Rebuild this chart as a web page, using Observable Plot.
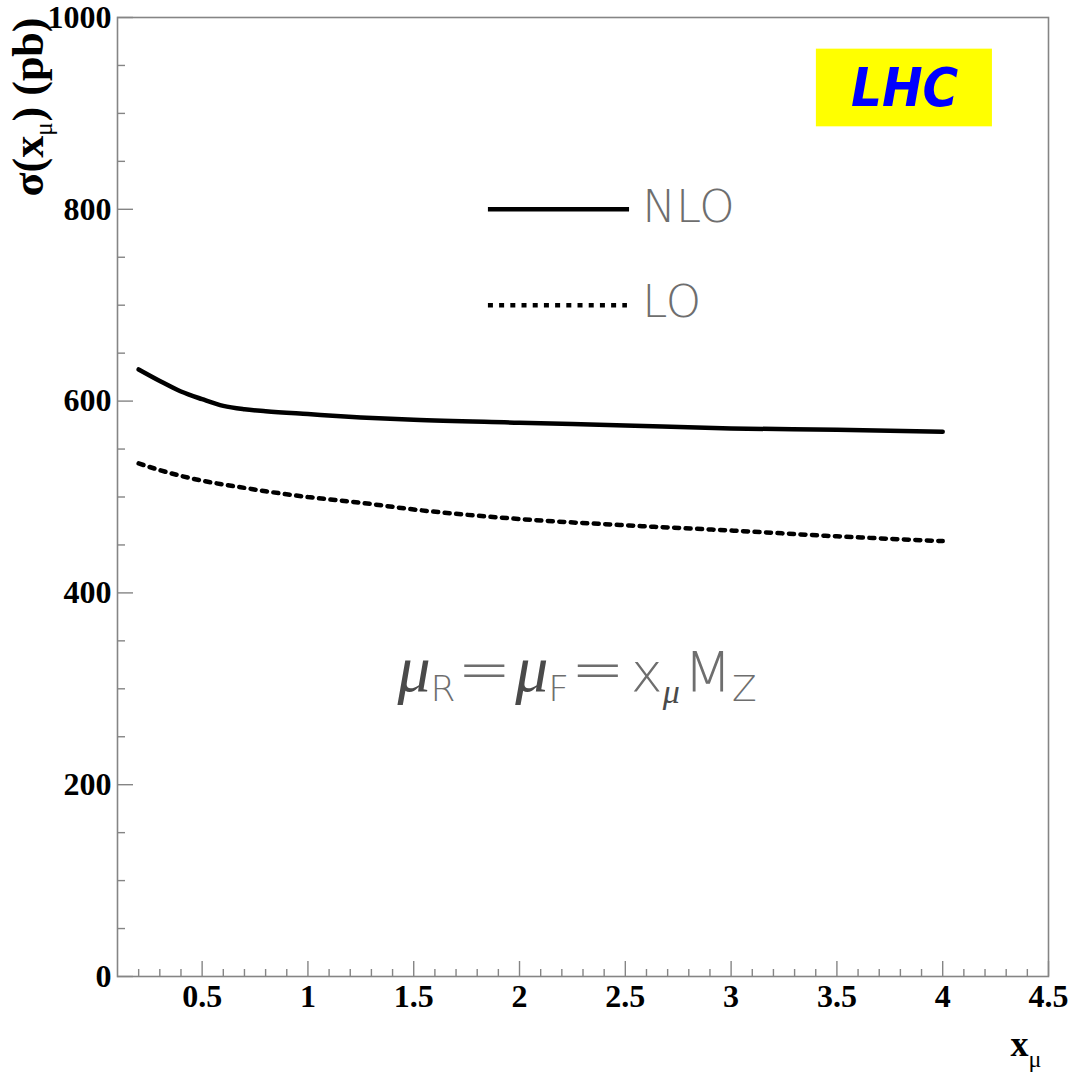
<!DOCTYPE html>
<html><head><meta charset="utf-8">
<script src="https://cdn.jsdelivr.net/npm/d3@7"></script>
<script src="https://cdn.jsdelivr.net/npm/@observablehq/plot@0.6"></script>
<style>html,body{margin:0;padding:0;background:#fff;overflow:hidden}svg{display:block}</style>
</head><body><div id="chart"></div>
<script>
// ---- data ----
const xMu = [0.2, 0.3, 0.4, 0.5, 0.6, 0.7, 0.8, 1.0, 1.25, 1.5, 2.0, 2.5, 3.0, 3.5, 4.0];
const nloValues = [633, 621, 610, 602, 595, 591.5, 589.5, 586.5, 583, 580.5, 577.5, 574.5, 571.5, 570, 568];
const loValues = [535, 528, 522, 517, 513, 509.5, 506, 500, 494, 487, 477, 470.5, 465, 459, 454];
const xTickLabels = [0.5, 1, 1.5, 2, 2.5, 3, 3.5, 4, 4.5];
const yTickLabels = [0, 200, 400, 600, 800, 1000];
const xMinor = d3.range(2, 45).map(i => i / 10).filter(v => Math.abs(v * 2 - Math.round(v * 2)) > 1e-6);
const yMinor = d3.range(0, 1001, 50).filter(v => v % 200 !== 0);

const rows = xMu.map((x, i) => ({x, nlo: nloValues[i], lo: loValues[i]}));

const serif = "'Liberation Serif', 'DejaVu Serif', serif";
const sans = "'DejaVu Sans', 'Liberation Sans', sans-serif";
const axisGrey = "#858585";
const textGrey = "#6e6e6e";

const chart = Plot.plot({
  width: 1071,
  height: 1081,
  marginLeft: 117,
  marginRight: 23,
  marginTop: 17,
  marginBottom: 105,
  x: {domain: [0.1, 4.5]},
  y: {domain: [0, 1000]},
  style: {background: "white", fontFamily: serif, color: "black"},
  marks: [
    // LHC box
    Plot.rect([0], {x1: 3.403, x2: 4.235, y1: 886, y2: 967, fill: "#ffff00"}),
    Plot.text(["LHC"], {x: 3.82, y: 908, lineAnchor: "bottom", textAnchor: "middle", fill: "#0000ff",
      fontSize: 54, fontWeight: "bold", fontStyle: "italic", fontFamily: "'DejaVu Sans Condensed', 'DejaVu Sans', sans-serif"}),
    // frame
    Plot.frame({stroke: axisGrey, strokeWidth: 1.6}),
    // inward ticks
    Plot.axisX(xTickLabels, {tickSize: -15, tickFormat: () => "", stroke: axisGrey, strokeWidth: 1.4, label: null}),
    Plot.axisX(xMinor, {tickSize: -7, tickFormat: () => "", stroke: axisGrey, strokeWidth: 1.4, label: null}),
    Plot.axisY(yTickLabels, {tickSize: -16, tickFormat: () => "", stroke: axisGrey, strokeWidth: 1.4, label: null}),
    Plot.axisY(yMinor, {tickSize: -8, tickFormat: () => "", stroke: axisGrey, strokeWidth: 1.4, label: null}),
    // tick labels
    Plot.axisX(xTickLabels, {tickSize: 0, tickPadding: 8, tickFormat: d => String(d), fontSize: 32, fontWeight: "bold", fontFamily: serif, fill: "black", label: null}),
    Plot.axisY(yTickLabels, {tickSize: 0, tickPadding: 6, tickFormat: d => String(d), fontSize: 32, fontWeight: "bold", fontFamily: serif, fill: "black", label: null}),
    // curves
    Plot.line(rows, {x: "x", y: "nlo", stroke: "black", strokeWidth: 4.5, curve: "monotone-x"}),
    Plot.line(rows, {x: "x", y: "lo", stroke: "black", strokeWidth: 4.5, strokeDasharray: "5 6.5", curve: "monotone-x"}),
    // legend
    Plot.ruleY([800], {x1: 1.853, x2: 2.52, stroke: "black", strokeWidth: 4.5}),
    Plot.ruleY([700], {x1: 1.853, x2: 2.51, stroke: "black", strokeWidth: 4.5, strokeDasharray: "5 6.2"}),
    Plot.text(["NLO"], {x: 2.58, y: 787, textAnchor: "start", lineAnchor: "bottom", fontSize: 45, fontWeight: 200, fontFamily: sans, fill: textGrey}),
    Plot.text(["LO"], {x: 2.58, y: 688, textAnchor: "start", lineAnchor: "bottom", fontSize: 45, fontWeight: 200, fontFamily: sans, fill: textGrey}),
    // formula
    Plot.text(["μR=μF=xμMZ"], {x: 1.423, y: 298, textAnchor: "start", lineAnchor: "bottom", fontSize: 46, fontWeight: 200, fontFamily: sans, fill: textGrey}),
    // axis titles
    Plot.text(["σ(xμ) (pb)"], {frameAnchor: "top-left", dx: -75, rotate: -90, textAnchor: "end", lineAnchor: "bottom", fontSize: 44, fontWeight: "bold", fontFamily: serif, fill: "black"}),
    Plot.text(["xμ"], {frameAnchor: "bottom-right", dx: -38, dy: 79, textAnchor: "start", lineAnchor: "bottom", fontSize: 36, fontWeight: "bold", fontFamily: serif, fill: "black"})
  ]
});
document.getElementById("chart").appendChild(chart);

// rich text (subscripts / mixed fonts)
function richify(content, parts) {
  d3.select(chart).selectAll("text").filter(function() { return this.textContent === content; }).each(function() {
    const t = d3.select(this);
    t.text(null);
    let shift = 0;
    for (const p of parts) {
      const ts = t.append("tspan").text(p.t);
      const target = p.sub || 0;
      if (target !== shift) { ts.attr("dy", target - shift); shift = target; }
      if (p.size) ts.attr("font-size", p.size);
      if (p.family) ts.attr("font-family", p.family);
      if (p.style) ts.attr("font-style", p.style);
      if (p.weight) ts.attr("font-weight", p.weight);
      if (p.fill) ts.attr("fill", p.fill);
      if (p.dx) ts.attr("dx", p.dx);
    }
  });
}
richify("σ(xμ) (pb)", [
  {t: "σ(x"},
  {t: "μ", sub: 9, size: 25, weight: "normal"},
  {t: ")", dx: 1},
  {t: " (pb)"}
]);
richify("xμ", [
  {t: "x"},
  {t: "μ", sub: 11, size: 24, weight: "normal"}
]);
const muStyle = {size: 66, family: serif, style: "italic", fill: "#4a4a4a", weight: "normal"};
richify("μR=μF=xμMZ", [
  {t: "μ", ...muStyle},
  {t: "R", sub: 10, size: 36},
  {t: "=", dx: 2, size: 64},
  {t: "μ", ...muStyle, dx: 4},
  {t: "F", sub: 10, size: 36},
  {t: "=", dx: 2, size: 64},
  {t: "x", size: 54, dx: 6},
  {t: "μ", sub: 12, size: 34, family: serif, style: "italic", fill: "#4a4a4a", weight: "normal"},
  {t: "M", size: 56, dx: 4},
  {t: "Z", sub: 10, size: 36}
]);
</script>
</body></html>
